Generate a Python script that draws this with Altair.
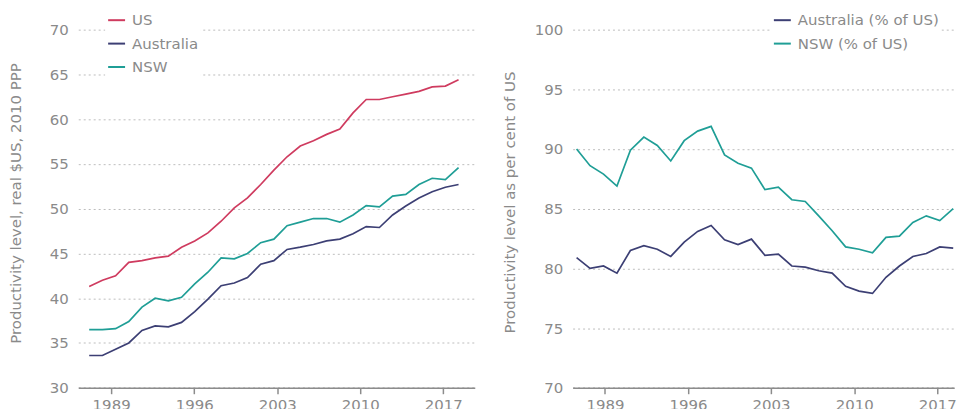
import altair as alt
import pandas as pd

# ---- data ----
years = list(range(1990, 2019))  # 29 observations

us = [41.3, 42.0, 42.5, 44.0, 44.2, 44.5, 44.7, 45.7, 46.4, 47.3, 48.6, 50.1,
      51.2, 52.7, 54.3, 55.8, 57.0, 57.6, 58.3, 58.9, 60.7, 62.2, 62.2, 62.5,
      62.8, 63.1, 63.6, 63.7, 64.4]
australia = [33.6, 33.6, 34.3, 35.0, 36.4, 36.9, 36.8, 37.3, 38.5, 39.9, 41.4,
             41.7, 42.3, 43.8, 44.2, 45.45, 45.7, 46.0, 46.4, 46.6, 47.2, 48.0,
             47.9, 49.3, 50.3, 51.2, 51.9, 52.4, 52.7]
nsw = [36.5, 36.5, 36.6, 37.4, 39.0, 40.0, 39.7, 40.1, 41.6, 42.9, 44.5, 44.4,
       45.0, 46.2, 46.6, 48.1, 48.5, 48.9, 48.9, 48.5, 49.3, 50.35, 50.2, 51.4,
       51.6, 52.7, 53.4, 53.25, 54.6]

aus_pct = [80.9, 80.0, 80.2, 79.6, 81.5, 81.9, 81.6, 81.0, 82.2, 83.1, 83.6,
           82.4, 82.0, 82.45, 81.1, 81.2, 80.2, 80.1, 79.8, 79.6, 78.5, 78.1,
           77.9, 79.25, 80.2, 81.0, 81.25, 81.8, 81.7]
nsw_pct = [90.0, 88.6, 87.9, 86.9, 89.9, 91.0, 90.3, 89.0, 90.7, 91.5, 91.9,
           89.5, 88.8, 88.4, 86.6, 86.8, 85.75, 85.6, 84.4, 83.15, 81.8, 81.6,
           81.3, 82.6, 82.7, 83.85, 84.4, 84.0, 85.0]

tick_years = [1989, 1996, 2003, 2010, 2017]

left_series = ["US", "Australia", "NSW"]
right_series = ["Australia (% of US)", "NSW (% of US)"]
c_us, c_aus, c_nsw = "#cf3b5f", "#3c3f74", "#1f9e96"

FONT = "DejaVu Sans"
TXT = "#8a8a8a"

left_df = pd.DataFrame({
    "year": years * 3,
    "value": us + australia + nsw,
    "series": ["US"] * len(years) + ["Australia"] * len(years) + ["NSW"] * len(years),
})
right_df = pd.DataFrame({
    "year": years * 2,
    "value": aus_pct + nsw_pct,
    "series": [right_series[0]] * len(years) + [right_series[1]] * len(years),
})
ticks_df = pd.DataFrame({"tick": tick_years})


def yaxis(title, values, ty):
    return alt.Axis(
        title=title, values=values, grid=True, gridDash=[2, 3], gridColor="#bdbdbd",
        gridWidth=1, domain=False, ticks=False, labelPadding=10, labelFontSize=15,
        labelColor=TXT, labelFont=FONT, titleFont=FONT,
        titleFontSize=15, titleFontWeight="normal", titleColor=TXT,
        titleX=-63, titleY=ty, titleBaseline="middle", titleAlign="center",
    )


xaxis = alt.Axis(
    orient="bottom", values=tick_years, format="d", grid=False, domain=True,
    domainColor="#8c8c8c", domainWidth=1.5, ticks=True, tickColor="#8c8c8c",
    tickWidth=1.5, tickSize=6, labelPadding=4, labelFontSize=15, labelColor=TXT,
    labelFont=FONT, title=None,
)


def legend(x):
    return alt.Legend(
        title=None, orient="none", legendX=x, legendY=-21, symbolType="stroke",
        symbolSize=289, symbolStrokeWidth=2, labelFontSize=15, labelColor=TXT,
        labelFont=FONT, labelOffset=6, rowPadding=5.5,
        padding=2, fillColor="white",
    )


def panel(df, domain_lines, domain_axis, ydomain, yvals, ytitle, ty, names, colors, lx, width):
    lines = alt.Chart(df).mark_line(strokeWidth=1.7).encode(
        x=alt.X("year:Q", scale=alt.Scale(domain=domain_lines, nice=False, zero=False), axis=None),
        y=alt.Y("value:Q", scale=alt.Scale(domain=ydomain, nice=False, zero=False),
                axis=yaxis(ytitle, yvals, ty)),
        color=alt.Color("series:N", scale=alt.Scale(domain=names, range=colors),
                        legend=legend(lx), sort=names),
    )
    axis_layer = alt.Chart(ticks_df).mark_point(opacity=0).encode(
        x=alt.X("tick:Q", scale=alt.Scale(domain=domain_axis, nice=False, zero=False), axis=xaxis),
    )
    return alt.layer(lines, axis_layer).resolve_scale(x="independent").properties(
        width=width, height=359.4
    )


left = panel(left_df, [1989.169, 2019.23], [1986.228, 2019.66], [30, 70],
             [30, 35, 40, 45, 50, 55, 60, 65, 70],
             "Productivity level, real $US, 2010 PPP", 174,
             left_series, [c_us, c_aus, c_nsw], 27, 398)
right = panel(right_df, [1989.704, 2018.074], [1986.28, 2018.43], [70, 100],
              [70, 75, 80, 85, 90, 95, 100],
              "Productivity level as per cent of US", 173,
              right_series, [c_aus, c_nsw], 199, 383)

chart = alt.hconcat(left, right, spacing=28.2).resolve_scale(
    color="independent"
).resolve_legend(color="independent").properties(
    padding={"left": 0.5, "top": 0, "right": 0, "bottom": -4},
    background="white",
).configure_view(strokeWidth=0, stroke="transparent")

chart.save("out.html", embed_options={"renderer": "svg", "actions": False})
